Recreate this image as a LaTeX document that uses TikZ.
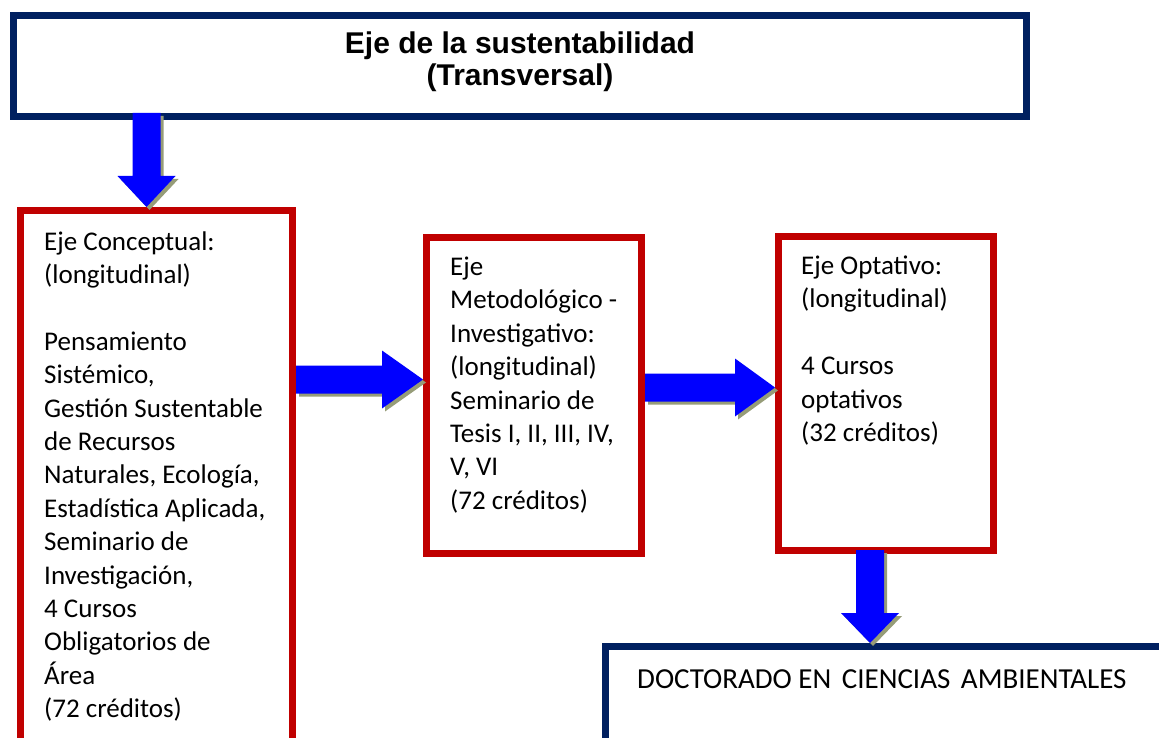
\documentclass[tikz,border=0pt]{standalone}
\usepackage{fontspec}
\setmainfont{Carlito}
\newfontfamily\arialfont{Liberation Sans}
\usepackage{tikz}
\usetikzlibrary{positioning, calc}
\definecolor{boxred}{RGB}{192,0,0}
\definecolor{boxnavy}{RGB}{0,32,96}
\definecolor{arrowblue}{RGB}{0,0,255}
\definecolor{shadowgray}{RGB}{150,156,120}
\tikzstyle{redbox}=[rectangle,draw=boxred,line width=7pt,fill=white,inner sep=0pt]
\tikzstyle{navybox}=[rectangle,draw=boxnavy,line width=7pt,fill=white,inner sep=0pt]
\tikzstyle{boxtext}=[anchor=north west,inner sep=0pt,align=left,font=\fontsize{27}{33.4}\selectfont]
% fat arrow with a shadow: [head length]{from}{to}
\newcommand{\blockarrow}[3][31pt]{%
  \coordinate (hb) at ($(#3)!#1!(#2)$);
  \foreach \fillcol/\dx in {shadowgray/3pt, arrowblue/0pt}
    \fill[\fillcol, transform canvas={xshift=\dx, yshift=-\dx}]
      ($(#2)!14pt!90:(#3)$) -- ($(hb)!14pt!90:(#3)$) -- ($(hb)!29pt!90:(#3)$)
      -- (#3) -- ($(hb)!29pt!-90:(#3)$) -- ($(hb)!14pt!-90:(#3)$)
      -- ($(#2)!14pt!-90:(#3)$) -- cycle;
}

\begin{document}
\begin{tikzpicture}[x=1pt,y=-1pt]
    \useasboundingbox (0,0) rectangle (1159,738);
    \clip (0,0) rectangle (1159,738);

    \node[navybox, minimum width=1013pt, minimum height=101pt] (transv) at (520,66) {};
    \node[align=center, font=\arialfont\bfseries\fontsize{30}{32.5}\selectfont] (title) at (520,61.5)
        {Eje de la sustentabilidad\\(Transversal)};

    \node[redbox, minimum width=272pt, minimum height=549.5pt] (conc) at (156.5,485.25) {};
    \node[redbox, minimum width=215pt, minimum height=316pt] (met) at (534,395.5) {};
    \node[redbox, minimum width=215pt, minimum height=314pt] (opt) at (886,393.5) {};
    \node[navybox, minimum width=594.5pt, minimum height=133.5pt] (doct) at (902.75,713.25) {};

    \node[boxtext] (conctext) at ($(conc.north west)+(27pt,-19.5pt)$)
        {\strut Eje Conceptual:\\(longitudinal)\\[33.4pt]Pensamiento\\Sistémico,\\Gestión Sustentable\\de Recursos\\Naturales, Ecología,\\Estadística Aplicada,\\Seminario de\\Investigación,\\4 Cursos\\Obligatorios de\\Área\\(72 créditos)};
    \node[boxtext] (mettext) at ($(met.north west)+(27pt,-18pt)$)
        {\strut Eje\\Metodológico -\\Investigativo:\\(longitudinal)\\Seminario de\\Tesis I, II, III, IV,\\V, VI\\(72 créditos)};
    \node[boxtext] (opttext) at ($(opt.north west)+(26pt,-18pt)$)
        {\strut Eje Optativo:\\(longitudinal)\\[33.4pt]4 Cursos\\optativos\\(32 créditos)};
    \node[anchor=base west, inner sep=0pt, font=\fontsize{29}{33}\selectfont] (doctext)
        at ($(doct.north west)+(35pt,-45pt)$) {DOCTORADO EN\hspace{4pt} CIENCIAS\hspace{4pt} AMBIENTALES};

    % arrows between the boxes
    \coordinate (a1) at ($(conc.north |- transv.south)+(-10pt,7pt)$);
    \coordinate (b1) at ($(conc.north)+(-10pt,0pt)$);
    \blockarrow[31pt]{a1}{b1}
    \coordinate (a2) at ($(conc.east |- met.west)+(0pt,16pt)$);
    \coordinate (b2) at ($(met.west)+(0pt,16pt)$);
    \blockarrow[41pt]{a2}{b2}
    \coordinate (a3) at ($(met.east)+(0pt,8pt)$);
    \coordinate (b3) at ($(opt.west |- met.east)+(0pt,8pt)$);
    \blockarrow[40pt]{a3}{b3}
    \coordinate (a4) at ($(opt.south)+(-16pt,4pt)$);
    \coordinate (b4) at ($(opt.south |- doct.north)+(-16pt,0pt)$);
    \blockarrow[30pt]{a4}{b4}
\end{tikzpicture}
\end{document}
